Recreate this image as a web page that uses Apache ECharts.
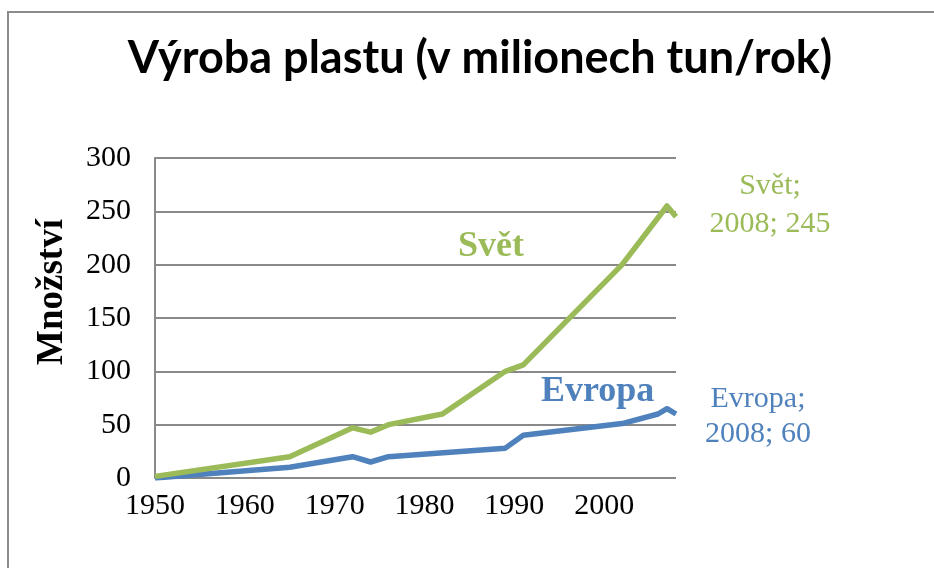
<!DOCTYPE html>
<html>
<head>
<meta charset="utf-8">
<script src="https://cdn.jsdelivr.net/npm/echarts@6/dist/echarts.min.js"></script>
<style>
  html, body { margin: 0; padding: 0; background: #fff; }
  #chartMain { width: 934px; height: 568px; }
</style>
</head>
<body>
<div id="chartMain"></div>
<script>
// roky a hodnoty (miliony tun)
const svetYears = [1950, 1965, 1972, 1974, 1976, 1982, 1989, 1991, 2002, 2007, 2008];
const svetValues = [1.5, 20, 47, 43, 50, 60, 100, 106, 200, 255, 245];
const evropaYears = [1950, 1965, 1972, 1974, 1976, 1989, 1991, 2002, 2006, 2007, 2008];
const evropaValues = [0, 10, 20, 15, 20, 28, 40, 51, 60, 65, 60];
const yTicks = [0, 50, 100, 150, 200, 250, 300];
const xTicks = [1950, 1960, 1970, 1980, 1990, 2000];

const green = '#9BBB59';
const blue = '#4F81BD';
const serif = '"Liberation Serif", "Times New Roman", serif';

function pairs(xs, ys) {
    return xs.map((x, i) => [x, ys[i]]);
}

const myChart = echarts.init(document.getElementById('chartMain'), null, { renderer: 'canvas' });

myChart.setOption({
    animation: false,
    backgroundColor: '#fff',
    title: {
        text: 'Výroba plastu (v milionech tun/rok)',
        left: 475,
        textAlign: 'center',
        top: 31,
        textStyle: {
            fontFamily: 'Lato, "Open Sans", sans-serif',
            fontWeight: 'bold',
            fontSize: 45,
            color: '#000'
        }
    },
    grid: { left: 155, right: 258, top: 158, bottom: 90 },
    xAxis: {
        type: 'value',
        min: xTicks[0],
        max: 2008,
        interval: 10,
        axisLine: { show: false },
        axisTick: { show: false },
        splitLine: { show: false },
        axisLabel: {
            margin: 13,
            color: '#000',
            fontFamily: serif,
            fontSize: 30,
            formatter: v => (xTicks.indexOf(v) >= 0 ? String(v) : '')
        }
    },
    yAxis: {
        type: 'value',
        min: yTicks[0],
        max: yTicks[yTicks.length - 1],
        interval: 50,
        axisLine: { show: true, lineStyle: { color: '#898989', width: 2 } },
        axisTick: { show: false },
        splitLine: { lineStyle: { color: '#898989', width: 2 } },
        axisLabel: {
            margin: 24,
            color: '#000',
            fontFamily: serif,
            fontSize: 30,
            formatter: v => (yTicks.indexOf(v) >= 0 ? String(v) : '')
        }
    },
    series: [
        {
            name: 'Evropa',
            type: 'line',
            data: pairs(evropaYears, evropaValues),
            showSymbol: false,
            symbol: 'none',
            lineStyle: { color: blue, width: 5.5, join: 'round' },
            itemStyle: { color: blue },
            endLabel: {
                show: true,
                formatter: p => p.seriesName + ';\n' + p.value[0] + '; ' + p.value[1],
                align: 'center',
                offset: [74, 3],
                color: blue,
                fontFamily: serif,
                fontSize: 30,
                lineHeight: 35
            }
        },
        {
            name: 'Svět',
            type: 'line',
            data: pairs(svetYears, svetValues),
            showSymbol: false,
            symbol: 'none',
            lineStyle: { color: green, width: 5.5, join: 'round' },
            itemStyle: { color: green },
            endLabel: {
                show: true,
                formatter: p => p.seriesName + ';\n' + p.value[0] + '; ' + p.value[1],
                align: 'center',
                offset: [86, -12],
                color: green,
                fontFamily: serif,
                fontSize: 30,
                lineHeight: 38
            }
        }
    ],
    graphic: [
        {
            type: 'rect',
            shape: { x: 8, y: 12, width: 1000, height: 1000 },
            style: { fill: 'none', stroke: '#8c8c8c', lineWidth: 2 },
            silent: true,
            z: -10
        },
        {
            type: 'text',
            x: 52,
            y: 292,
            rotation: Math.PI / 2,
            style: {
                text: 'Množství',
                fill: '#000',
                font: 'bold 37px ' + serif,
                align: 'center',
                verticalAlign: 'middle'
            }
        },
        {
            type: 'text',
            left: 458,
            top: 229,
            style: {
                text: 'Svět',
                fill: green,
                font: 'bold 36px ' + serif
            }
        },
        {
            type: 'text',
            left: 541,
            top: 374,
            style: {
                text: 'Evropa',
                fill: blue,
                font: 'bold 36px ' + serif
            }
        }
    ]
});
</script>
</body>
</html>
